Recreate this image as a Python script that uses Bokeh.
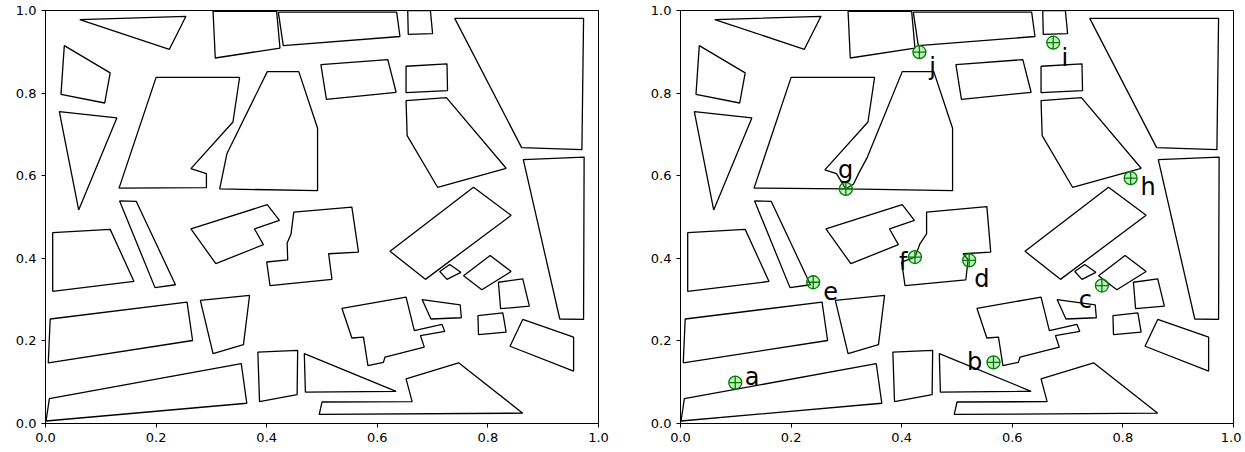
from bokeh.plotting import figure
from bokeh.layouts import row
from bokeh.models import Range1d, FixedTicker, PrintfTickFormatter
from bokeh.embed import file_html
from bokeh.resources import INLINE
from bokeh.core.properties import value

# ---------------- obstacle polygons (data coords) ----------------
tri_top = [(0.062, 0.978), (0.254, 0.986), (0.224, 0.906)]
quad_tl = [(0.034, 0.915), (0.117, 0.849), (0.107, 0.776), (0.028, 0.797)]
tri_left = [(0.025, 0.755), (0.129, 0.740), (0.060, 0.517)]
big_a = [(0.200, 0.838), (0.351, 0.838), (0.339, 0.730), (0.263, 0.617),
         (0.291, 0.605), (0.291, 0.571), (0.133, 0.570)]
big_b = [(0.401, 0.852), (0.458, 0.852), (0.492, 0.715), (0.492, 0.564),
         (0.315, 0.568), (0.328, 0.653)]
top_1 = [(0.303, 0.998), (0.418, 0.998), (0.424, 0.909), (0.307, 0.885)]
top_2 = [(0.421, 0.996), (0.635, 0.996), (0.641, 0.937), (0.430, 0.915)]
top_3 = [(0.655, 1.000), (0.696, 1.000), (0.700, 0.944), (0.656, 0.942)]
mid_1 = [(0.498, 0.869), (0.619, 0.881), (0.634, 0.802), (0.508, 0.785)]
mid_2 = [(0.652, 0.865), (0.726, 0.871), (0.727, 0.806), (0.652, 0.801)]
mid_3 = [(0.652, 0.782), (0.725, 0.789), (0.833, 0.618), (0.709, 0.572), (0.654, 0.697)]
right_1 = [(0.740, 0.981), (0.973, 0.981), (0.970, 0.663), (0.861, 0.668)]
right_2 = [(0.864, 0.639), (0.974, 0.645), (0.973, 0.252), (0.930, 0.253)]
left_1 = [(0.013, 0.462), (0.117, 0.470), (0.160, 0.344), (0.013, 0.320)]
thin_1 = [(0.134, 0.539), (0.164, 0.538), (0.235, 0.336), (0.198, 0.329)]
step_1 = [(0.263, 0.471), (0.401, 0.530), (0.423, 0.492), (0.378, 0.471),
          (0.394, 0.433), (0.308, 0.387)]
block_c = [(0.449, 0.512), (0.554, 0.524), (0.566, 0.415), (0.512, 0.411),
           (0.518, 0.349), (0.406, 0.334), (0.400, 0.391), (0.438, 0.396),
           (0.437, 0.437), (0.444, 0.459)]
long_1 = [(0.0085, 0.253), (0.256, 0.294), (0.266, 0.201), (0.005, 0.147)]
quad_m = [(0.280, 0.298), (0.369, 0.310), (0.358, 0.191), (0.303, 0.169)]
long_2 = [(0.007, 0.060), (0.354, 0.145), (0.364, 0.049), (0.001, 0.006)]
small_1 = [(0.384, 0.173), (0.456, 0.177), (0.455, 0.070), (0.387, 0.053)]
tri_bot = [(0.468, 0.169), (0.634, 0.078), (0.470, 0.076)]
bottom_1 = [(0.500, 0.052), (0.663, 0.053), (0.652, 0.108), (0.747, 0.147),
            (0.863, 0.025), (0.495, 0.022)]
house = [(0.536, 0.279), (0.652, 0.306), (0.667, 0.225), (0.717, 0.240),
         (0.722, 0.223), (0.678, 0.213), (0.685, 0.185), (0.614, 0.161),
         (0.611, 0.148), (0.583, 0.140), (0.575, 0.209), (0.554, 0.207)]
quad_s1 = [(0.681, 0.300), (0.750, 0.287), (0.752, 0.256), (0.697, 0.253)]
rot_big = [(0.623, 0.417), (0.774, 0.572), (0.842, 0.504), (0.687, 0.349)]
dia_1 = [(0.713, 0.368), (0.731, 0.385), (0.751, 0.366), (0.726, 0.349)]
dia_2 = [(0.756, 0.358), (0.804, 0.407), (0.842, 0.368), (0.789, 0.324)]
sq_1 = [(0.819, 0.342), (0.863, 0.350), (0.875, 0.284), (0.823, 0.278)]
sq_2 = [(0.782, 0.261), (0.827, 0.268), (0.833, 0.221), (0.783, 0.215)]
quad_r = [(0.863, 0.252), (0.955, 0.209), (0.955, 0.127), (0.840, 0.187)]

# variants used in the right panel
big_a_r = [(0.200, 0.838), (0.351, 0.838), (0.339, 0.730), (0.261, 0.614),
           (0.282, 0.605), (0.299, 0.568), (0.133, 0.570)]
big_b_r = [(0.401, 0.852), (0.458, 0.852), (0.492, 0.715), (0.492, 0.564),
           (0.299, 0.568), (0.313, 0.580), (0.322, 0.605), (0.338, 0.645)]
block_c_r = [(0.445, 0.512), (0.554, 0.525), (0.561, 0.415), (0.511, 0.411),
             (0.520, 0.397), (0.516, 0.348), (0.406, 0.334), (0.400, 0.391),
             (0.424, 0.403), (0.433, 0.435), (0.445, 0.459)]

shared = [tri_top, quad_tl, tri_left, top_1, top_2, top_3, mid_1, mid_2, mid_3,
          right_1, right_2, left_1, thin_1, step_1, long_1, quad_m, long_2,
          small_1, tri_bot, bottom_1, house, quad_s1, rot_big, dia_1, dia_2,
          sq_1, sq_2, quad_r]
left_polys = shared + [big_a, big_b, block_c]
right_polys = shared + [big_a_r, big_b_r, block_c_r]

# ---------------- labelled points (right panel) ----------------
pt_names = ["a", "b", "c", "d", "e", "f", "g", "h", "i", "j"]
pt_x = [0.099, 0.566, 0.762, 0.522, 0.240, 0.424, 0.299, 0.814, 0.674, 0.432]
pt_y = [0.099, 0.148, 0.334, 0.395, 0.342, 0.403, 0.568, 0.594, 0.922, 0.899]
lab_x = [0.116, 0.518, 0.720, 0.531, 0.258, 0.395, 0.285, 0.832, 0.689, 0.450]
lab_y = [0.112, 0.148, 0.300, 0.350, 0.320, 0.390, 0.613, 0.572, 0.885, 0.864]

ticks = [0.0, 0.2, 0.4, 0.6, 0.8, 1.0]


def make_fig(polys, border_left, border_right):
    p = figure(frame_width=553, frame_height=413,
               min_border_left=border_left, min_border_right=border_right,
               min_border_top=10, min_border_bottom=26,
               x_range=Range1d(0, 1), y_range=Range1d(0, 1),
               output_backend="svg", toolbar_location=None)
    p.grid.visible = False
    p.outline_line_color = "black"
    p.outline_line_alpha = 1
    p.outline_line_width = 1
    for ax in (p.xaxis[0], p.yaxis[0]):
        ax.ticker = FixedTicker(ticks=ticks)
        ax.formatter = PrintfTickFormatter(format="%.1f")
        ax.major_tick_in = 0
        ax.major_tick_out = 4
        ax.minor_tick_line_color = None
        ax.axis_line_color = "black"
        ax.major_tick_line_color = "black"
        ax.major_label_text_font = "DejaVu Sans"
        ax.major_label_text_font_size = "13px"
        ax.major_label_text_color = "black"
        ax.major_label_standoff = 5
    xs = [[pt[0] for pt in poly] for poly in polys]
    ys = [[pt[1] for pt in poly] for poly in polys]
    p.patches(xs, ys, fill_color=None, line_color="black", line_width=1.3)
    return p


p1 = make_fig(left_polys, 45, 45)
p2 = make_fig(right_polys, 37, 8)

p2.scatter(pt_x, pt_y, marker="circle_cross", size=13, line_color="green",
           line_width=1.3, fill_color="#55cc55", fill_alpha=0.35)
p2.text(lab_x, lab_y, text=pt_names, text_font=value("DejaVu Sans"),
        text_font_size="24px", text_color="black",
        text_align="left", text_baseline="alphabetic")

layout = row(p1, p2)
open("out.html", "w").write(file_html(layout, INLINE))
